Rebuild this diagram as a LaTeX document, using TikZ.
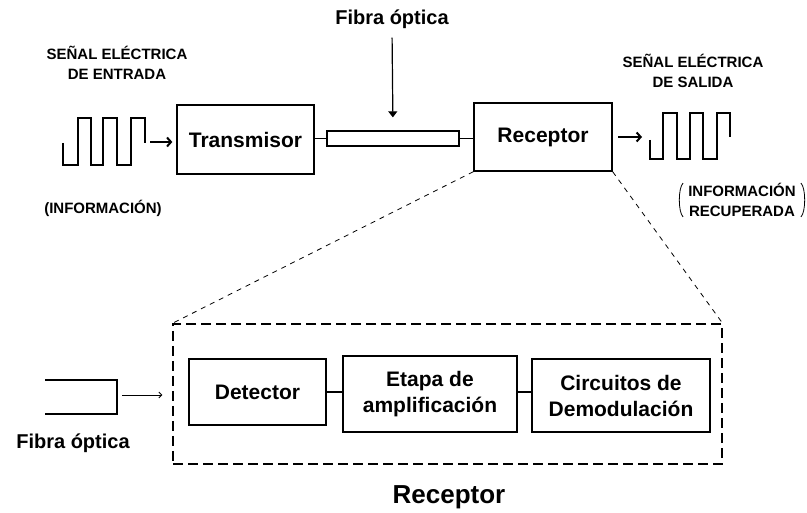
\documentclass[tikz,border=0pt]{standalone}
\usepackage{fontspec}
\setmainfont{Liberation Sans}
\usetikzlibrary{arrows.meta}
\begin{document}
\begin{tikzpicture}[x=1pt,y=-1pt,
  blk/.style={draw,line width=1.3pt,inner sep=0pt,align=center,font=\fontsize{21}{26}\selectfont\bfseries},
  ttl/.style={inner sep=0pt,align=center,font=\fontsize{15}{20}\selectfont\bfseries},
  lbl/.style={inner sep=0pt,align=center,font=\fontsize{20}{24}\selectfont\bfseries},
  wire/.style={line width=1.3pt},
  wave/.style={line width=1.3pt,line join=miter},
  sigarrow/.style={line width=2pt,-{Straight Barb[length=4pt,width=9pt]}},
  thinarrow/.style={line width=0.8pt,-{Straight Barb[length=3pt,width=6pt]}},
  droparrow/.style={line width=1.2pt,-{Triangle[length=6pt,width=9pt]}},
  proj/.style={line width=0.8pt,dash pattern=on 5pt off 5pt},
  rxbox/.style={draw,line width=1.3pt,dash pattern=on 10pt off 5pt,inner sep=0pt}]
\useasboundingbox (0,0) rectangle (807,513);

% top chain
\node[blk,minimum width=137pt,minimum height=69pt] (trans) at (245.5,139.5) {Transmisor};
\node[draw,line width=1.3pt,minimum width=132pt,minimum height=15pt,inner sep=0pt] (fib) at (393,138.5) {};
\node[blk,minimum width=138pt,minimum height=68pt] (rec) at (543,137) {Receptor};
\draw[wire] (trans.east |- fib.west) -- (fib.west);
\draw[wire] (fib.east) -- (fib.east -| rec.west);

\node[lbl] (fibtxt) at (392,19) {Fibra óptica};
\draw[droparrow,shorten <=9pt,shorten >=13pt] (fibtxt.south) -- (fib.north);

% input signal
\node[ttl] (tin) at (117,63) {SEÑAL ELÉCTRICA\\DE ENTRADA};
\node[ttl] (infin) at (103,208) {(INFORMACIÓN)};
\coordinate (w1s) at (63,143);
\coordinate (w1e) at (145,143);
\draw[wave] (w1s) -- (63,165) -- (78,165) -- (78,118) -- (91,118) -- (91,165) -- (103,165) -- (103,118) -- (117,118) -- (117,165) -- (131,165) -- (131,118) -- (145,118) -- (w1e);
\coordinate (a1s) at (150,142);
\draw[sigarrow,shorten >=4pt] (a1s) -- (a1s -| trans.west);

% output signal
\node[ttl] (tout) at (693,71) {SEÑAL ELÉCTRICA\\DE SALIDA};
\coordinate (a2s) at (618,137);
\coordinate (w2s) at (650,140);
\coordinate (w2e) at (730,137);
\draw[sigarrow] (a2s) -- (642,137);
\draw[wave] (w2s) -- (650,159) -- (663,159) -- (663,113) -- (677,113) -- (677,159) -- (690,159) -- (690,113) -- (703,113) -- (703,159) -- (717,159) -- (717,113) -- (730,113) -- (w2e);
\node[ttl] (infout) at (742,200) {INFORMACIÓN\\RECUPERADA};
\draw[line width=0.8pt] ([xshift=-5pt]infout.north west) .. controls ([xshift=-10pt,yshift=-5pt]infout.north west) and ([xshift=-10pt,yshift=5pt]infout.south west) .. ([xshift=-5pt]infout.south west);
\draw[line width=0.8pt] ([xshift=5pt]infout.north east) .. controls ([xshift=10pt,yshift=-5pt]infout.north east) and ([xshift=10pt,yshift=5pt]infout.south east) .. ([xshift=5pt]infout.south east);

% receiver detail
\node[rxbox,minimum width=549pt,minimum height=140pt] (rx) at (447.5,394) {};
\draw[proj] (rec.south west) -- (rx.north west);
\draw[proj] (rec.south east) -- (rx.north east);

\node[blk,minimum width=137pt,minimum height=66pt] (det) at (257.5,392) {Detector};
\node[blk,minimum width=174pt,minimum height=76pt] (eta) at (430,394) {Etapa de\\amplificación};
\node[blk,minimum width=178pt,minimum height=73pt] (cir) at (621,395.5) {Circuitos de\\Demodulación};
\draw[wire] (det.east) -- (det.east -| eta.west);
\draw[wire] (eta.east |- det.east) -- (det.east -| cir.west);

% lower fiber
\coordinate (f2a) at (45,380);
\coordinate (f2b) at (45,414);
\draw[wire] (f2a) -| (117,414) -- (f2b);
\coordinate (a3s) at (122,395);
\draw[thinarrow,shorten >=10pt] (a3s) -- (a3s -| rx.west);
\node[lbl] (fib2txt) at (73,443) {Fibra óptica};

\node[inner sep=0pt,font=\fontsize{26}{30}\selectfont\bfseries] (rxtxt) at (449,497) {Receptor};
\end{tikzpicture}
\end{document}
